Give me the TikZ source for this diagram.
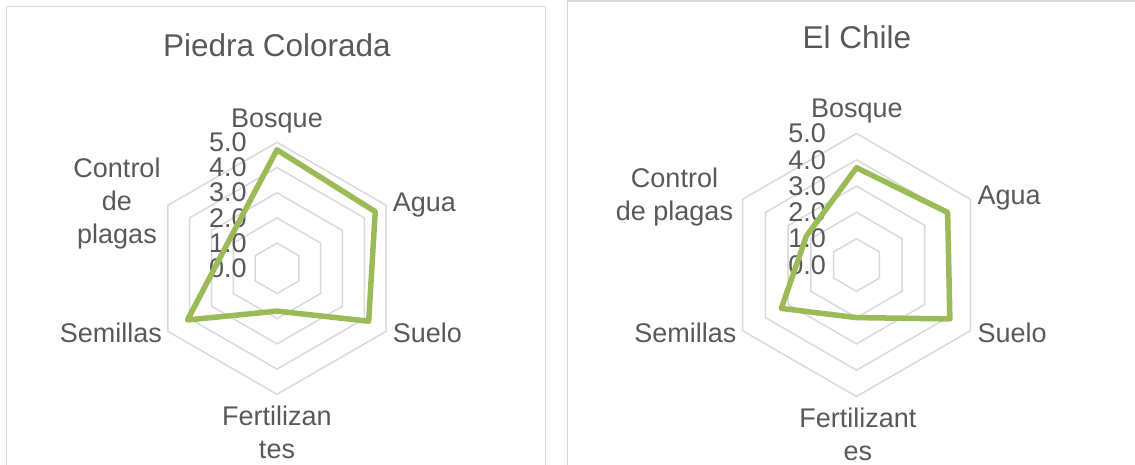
\documentclass[tikz,border=0pt]{standalone}
\usepackage{fontspec}
\setmainfont{Liberation Sans}
\usetikzlibrary{positioning}
\definecolor{gridgray}{HTML}{D9D9D9}
\definecolor{labelgray}{HTML}{595959}
\definecolor{seriesgreen}{HTML}{9BBB59}
\tikzset{
  panel/.style={draw=gridgray, line width=1.5pt},
  ring/.style={draw=gridgray, line width=1.5pt},
  series/.style={draw=seriesgreen, line width=5.5pt, line join=round},
  charttitle/.style={text=labelgray, font=\fontsize{31.5}{38}\selectfont, inner sep=0pt},
  axislabel/.style={text=labelgray, font=\fontsize{27}{33}\selectfont, inner sep=0pt, align=center},
  ticklabel/.style={text=labelgray, font=\fontsize{27}{33}\selectfont, inner sep=0pt, anchor=east}
}

\begin{document}
\begin{tikzpicture}[x=1pt,y=1pt]
\useasboundingbox (0,0) rectangle (1135,465);
\clip (0,0) rectangle (1135,465);

% Chart panels
\draw[panel] (6.7,-20) -- (6.7,458.3) -- (545.3,458.3) -- (545.3,-20);
\draw[panel] (567.3,-20) -- (567.3,464.2) -- (1160,464.2);

% Piedra Colorada
\coordinate (pc) at (277,196.7);
\begin{scope}[shift={(pc)}, x=25.2pt, y=25.2pt]
\foreach \r in {1,...,5}
  \draw[ring] (90:\r) -- (30:\r) -- (-30:\r) -- (-90:\r) -- (210:\r) -- (150:\r) -- cycle;
\foreach \v in {0,...,5}
  \node[ticklabel] (pc-tick\v) at (-1.2,\v) {\v.0};
\draw[series] (90:4.7) -- (30:4.5) -- (-30:4.2) -- (-90:1.7) -- (210:4.1) -- (150:2.2) -- cycle;
\end{scope}
\node[charttitle, anchor=base] (pc-title) at (277,408.3) {Piedra Colorada};
\node[axislabel, anchor=base] (pc-bosque) at (277,337.5) {Bosque};
\node[axislabel, anchor=base west] (pc-agua) at (392.7,253.3) {Agua};
\node[axislabel, anchor=base west] (pc-suelo) at (392.7,122.3) {Suelo};
\node[axislabel, anchor=north] (pc-fert) at (277,59.5) {Fertilizan\\tes};
\node[axislabel, anchor=base east] (pc-semillas) at (162.1,122.3) {Semillas};
\node[axislabel, anchor=north] (pc-control) at (117,307.5) {Control\\de\\plagas};

% El Chile
\coordinate (ec) at (856.5,200);
\begin{scope}[shift={(ec)}, x=26.3pt, y=26.3pt]
\foreach \r in {1,...,5}
  \draw[ring] (90:\r) -- (30:\r) -- (-30:\r) -- (-90:\r) -- (210:\r) -- (150:\r) -- cycle;
\foreach \v in {0,...,5}
  \node[ticklabel] (ec-tick\v) at (-1.16,\v) {\v.0};
\draw[series] (90:3.7) -- (30:4.0) -- (-30:4.1) -- (-90:2.0) -- (210:3.3) -- (150:2.2) -- cycle;
\end{scope}
\node[charttitle, anchor=base] (ec-title) at (856.8,416.7) {El Chile};
\node[axislabel, anchor=base] (ec-bosque) at (856.8,347.5) {Bosque};
\node[axislabel, anchor=base west] (ec-agua) at (977.3,260) {Agua};
\node[axislabel, anchor=base west] (ec-suelo) at (977.3,122.3) {Suelo};
\node[axislabel, anchor=north] (ec-fert) at (857.8,57) {Fertilizant\\es};
\node[axislabel, anchor=base east] (ec-semillas) at (736.5,122.3) {Semillas};
\node[axislabel, anchor=north] (ec-control) at (674.5,297) {Control\\de plagas};
\end{tikzpicture}
\end{document}
